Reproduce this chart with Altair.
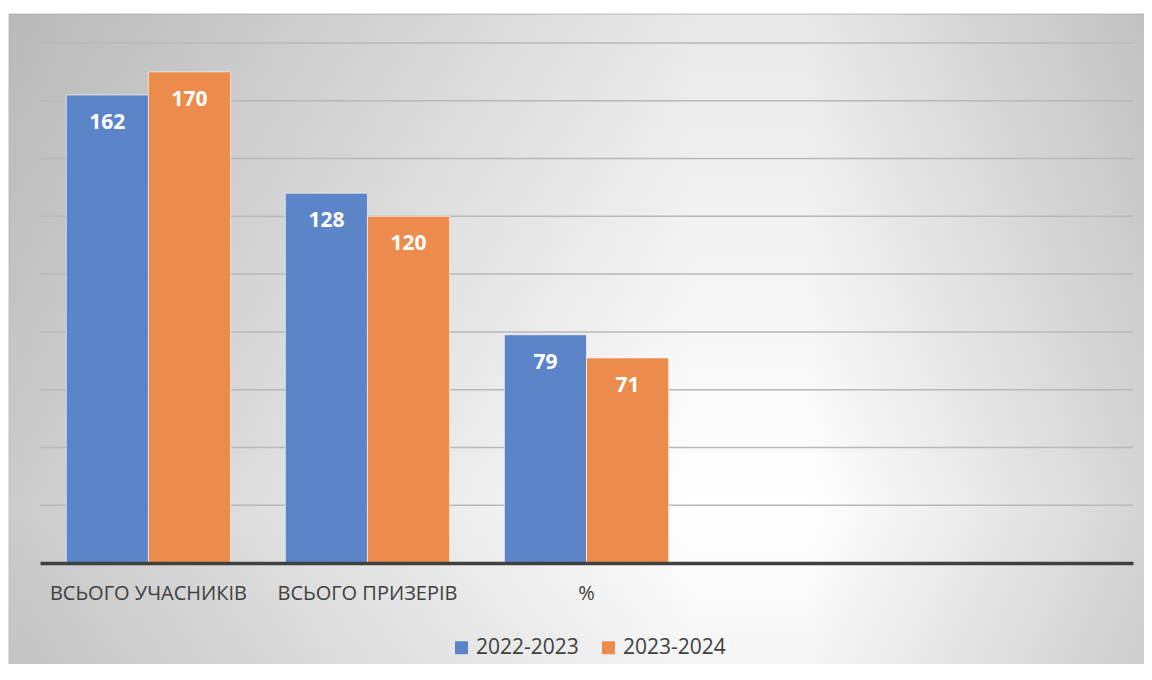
import altair as alt
import pandas as pd

categories = ["ВСЬОГО УЧАСНИКІВ", "ВСЬОГО ПРИЗЕРІВ", "%"]
empty_slots = ["_4", "_5"]
series = ["2022-2023", "2023-2024"]
values_2022 = [162, 128, 79]
values_2023 = [170, 120, 71]
y_ticks = list(range(20, 181, 20))
colors = ["#5B84C9", "#EC8C4C"]

rows = []
for c, a, b in zip(categories, values_2022, values_2023):
    rows.append({"cat": c, "series": series[0], "value": a})
    rows.append({"cat": c, "series": series[1], "value": b})
df = pd.DataFrame(rows)
grid_df = pd.DataFrame({"value": y_ticks})

FONT = "Open Sans"

x_scale = alt.Scale(domain=categories + empty_slots, paddingInner=0.25, paddingOuter=0.12)
y_scale = alt.Scale(domain=[0, 180], nice=False)

x_enc = alt.X(
    "cat:N",
    scale=x_scale,
    axis=alt.Axis(
        title=None,
        labelExpr="indexof(datum.label, '_') == 0 ? '' : datum.label",
        labelAngle=0,
        ticks=False,
        labelPadding=20,
        labelFontSize=20,
        labelFont=FONT,
        labelColor="#404040",
        domainColor="#404040",
        domainWidth=3.5,
        grid=False,
        labelLimit=400,
        zindex=2,
    ),
)
y_enc = alt.Y("value:Q", scale=y_scale, axis=None)

bg_h = alt.Chart(alt.Data(values=[{}])).mark_rect(
    fill=alt.LinearGradient(
        gradient="linear",
        x1=0, y1=0, x2=1, y2=0,
        stops=[
            alt.GradientStop(offset=0, color="#cbcbcb"),
            alt.GradientStop(offset=0.6, color="#ffffff"),
            alt.GradientStop(offset=0.7, color="#ffffff"),
            alt.GradientStop(offset=1, color="#d4d4d4"),
        ],
    ),
    stroke="#c0c0c0",
    strokeWidth=1,
).encode(
    x=alt.value(-31), x2=alt.value(1110), y=alt.value(-29), y2=alt.value(629)
)

bg_v = alt.Chart(alt.Data(values=[{}])).mark_rect(
    fill=alt.LinearGradient(
        gradient="linear",
        x1=0, y1=0, x2=0, y2=1,
        stops=[
            alt.GradientStop(offset=0, color="rgba(0,0,0,0.09)"),
            alt.GradientStop(offset=0.75, color="rgba(0,0,0,0)"),
            alt.GradientStop(offset=1, color="rgba(0,0,0,0.04)"),
        ],
    ),
).encode(
    x=alt.value(-31), x2=alt.value(1110), y=alt.value(-29), y2=alt.value(629)
)

grid = alt.Chart(grid_df).mark_rule(color="#b8b8b8", strokeWidth=1.5).encode(
    y=alt.Y("value:Q", scale=y_scale, axis=None),
    x=alt.value(0),
    x2=alt.value(1093),
)

bars = alt.Chart(df).mark_bar(
    stroke="white", strokeOpacity=0.6, strokeWidth=1
).encode(
    x=x_enc,
    xOffset=alt.XOffset("series:N", sort=series),
    y=y_enc,
    color=alt.Color(
        "series:N",
        sort=series,
        scale=alt.Scale(domain=series, range=colors),
        legend=alt.Legend(
            title=None,
            orient="none",
            legendX=411,
            legendY=594,
            direction="horizontal",
            symbolType="square",
            symbolSize=169,
            symbolStrokeWidth=0,
            labelFontSize=21,
            labelFont=FONT,
            labelColor="#404040",
            labelOffset=4,
            columnPadding=19,
            padding=0,
        ),
    ),
)

labels = alt.Chart(df).mark_text(
    color="white", font=FONT, fontWeight="bold", fontSize=21, baseline="middle", dy=28
).encode(
    x=alt.X("cat:N"),
    xOffset=alt.XOffset("series:N", sort=series),
    y=alt.Y("value:Q"),
    text=alt.Text("value:Q"),
)

chart = alt.layer(bg_h, bg_v, grid, bars, labels).properties(
    width=1093,
    height=520,
    autosize="none",
    padding={"left": 32, "top": 35, "right": 11, "bottom": 101},
).configure_view(stroke=None)

chart.save("out.html", embed_options={"renderer": "svg", "actions": False})
